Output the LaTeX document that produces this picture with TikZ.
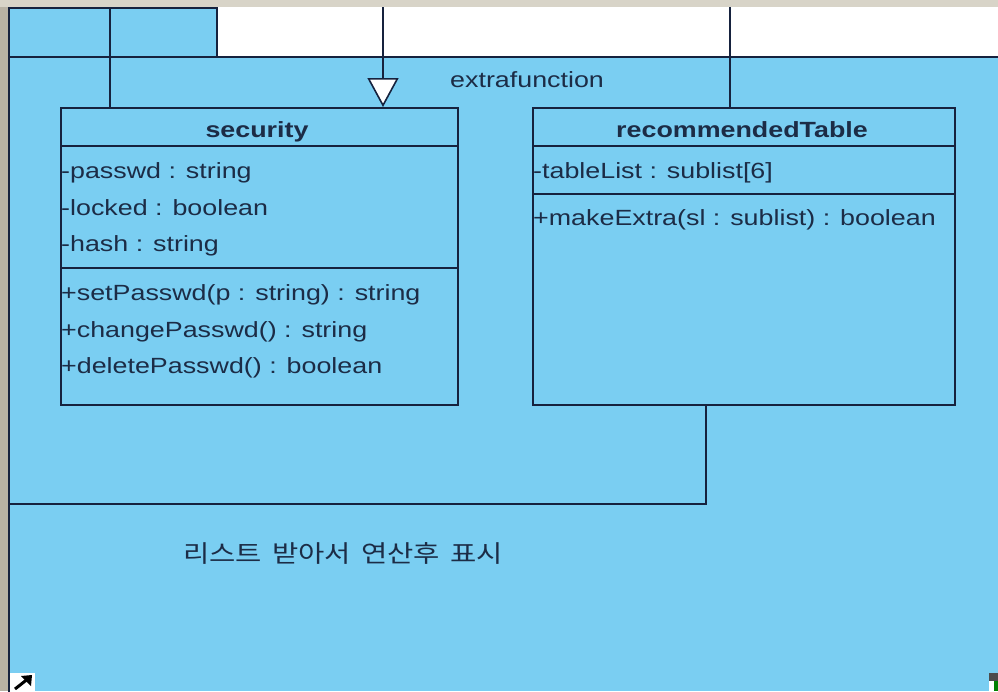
\documentclass[tikz,border=0pt]{standalone}
\usepackage{fontspec}
\setmainfont{Liberation Sans}[FakeStretch=1.22]
\newfontfamily\kofont{Noto Sans CJK KR}[FakeStretch=1.19,WordSpace=1.6]
\usetikzlibrary{arrows.meta}
\definecolor{pkgblue}{RGB}{122,206,242}
\definecolor{linec}{RGB}{22,34,62}
\definecolor{txtc}{RGB}{28,44,70}
\definecolor{topgray}{RGB}{216,212,200}
\definecolor{leftgray}{RGB}{184,178,164}
\tikzset{
  cls/.style={draw=linec, line width=2pt, fill=pkgblue, rectangle, inner sep=0pt, anchor=north west},
  divline/.style={draw=linec, line width=2pt},
  conn/.style={draw=linec, line width=1.6pt},
  member/.style={font=\fontsize{22}{26}\selectfont, text=txtc, inner sep=0pt, anchor=base west},
  hdr/.style={font=\fontsize{22}{26}\selectfont\bfseries, text=txtc, inner sep=0pt, anchor=base},
  note/.style={font=\kofont\fontsize{24}{30}\selectfont, text=txtc, inner sep=0pt, anchor=base west}
}
\begin{document}
\begin{tikzpicture}[x=1pt,y=-1pt]
\useasboundingbox (0,0) rectangle (998,691);
% window frame
\fill[topgray] (0,0) rectangle (998,7);
\fill[leftgray] (0,7) rectangle (9,691);
% white area right of tab
\fill[white] (217,7) rectangle (998,57);
% package
\fill[pkgblue] (9,7) rectangle (217,57);
\fill[pkgblue] (9,57) rectangle (998,691);
\draw[linec, line width=2pt] (9,693) -- (9,8) -- (217,8) -- (217,57);
\draw[linec, line width=2pt] (9,57) -- (1000,57);
\node[member, anchor=base west] (pkgname) at (450,87) {extrafunction};
% classes
\node[cls, minimum width=397pt, minimum height=297pt] (sec) at (60,107) {};
\draw[divline] (60,146) -- (457,146);
\draw[divline] (60,268) -- (457,268);
\node[hdr] (sechdr) at (257,137) {security};
\node[member] (a1) at (61,178) {-passwd : string};
\node[member] (a2) at (61,215) {-locked : boolean};
\node[member] (a3) at (61,251) {-hash : string};
\node[member] (m1) at (61,300) {+setPasswd(p : string) : string};
\node[member] (m2) at (61,337) {+changePasswd() : string};
\node[member] (m3) at (61,373) {+deletePasswd() : boolean};

\node[cls, minimum width=422pt, minimum height=297pt] (rt) at (532,107) {};
\draw[divline] (532,146) -- (954,146);
\draw[divline] (532,194) -- (954,194);
\node[hdr] (rthdr) at (742,137) {recommendedTable};
\node[member] (b1) at (533,178) {-tableList : sublist[6]};
\node[member] (b2) at (533,225) {+makeExtra(sl : sublist) : boolean};
% connectors
\coordinate (t1) at (110,7);
\coordinate (t2) at (383,7);
\coordinate (t3) at (730,7);
\draw[conn] (t1) -- (t1 |- sec.north);
\draw[conn, -{Triangle[fill=white, width=31pt, length=29pt, line width=1.6pt]}] (t2) -- (t2 |- sec.north);
\draw[conn] (t3) -- (t3 |- rt.north);
\coordinate (bx) at (706,0);
\coordinate (pl) at (9,504);
\draw[conn] (bx |- rt.south) -- (bx |- pl) -- (pl);
% note
\node[note] (memo) at (183,562) {리스트 받아서 연산후 표시};
% corner icons
\fill[white] (10,673) rectangle (35,691);
\draw[black, line width=3pt] (15,689) -- (29,678);
\fill[black] (32,675) -- (21,676) -- (31,686) -- cycle;
\fill[black!70] (989,673) rectangle (998,681);
\fill[white] (989,681) rectangle (994,691);
\fill[green!50!black] (994,681) rectangle (998,691);
\end{tikzpicture}
\end{document}
